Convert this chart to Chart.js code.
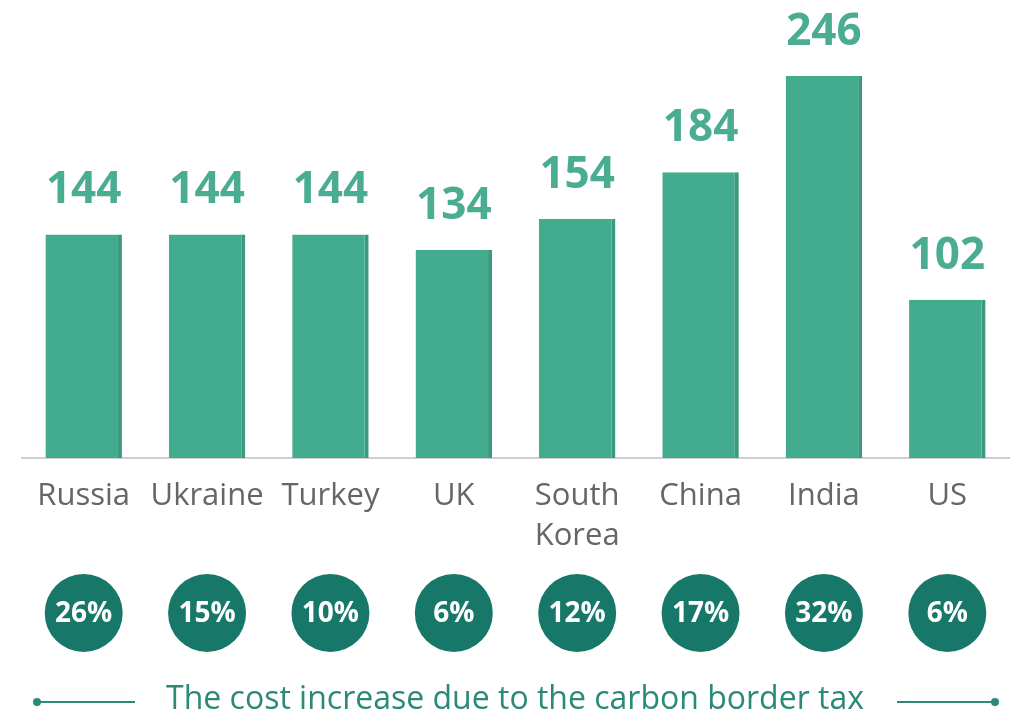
<!DOCTYPE html>
<html>
<head>
<meta charset="utf-8">
<script src="https://cdn.jsdelivr.net/npm/chart.js@4"></script>
<style>
  html, body { margin: 0; padding: 0; background: #fff; }
  #wrap { width: 1023px; height: 715px; }
</style>
</head>
<body>
<div id="wrap"><canvas id="cost-chart"></canvas></div>
<script>
// data
const countries = ['Russia', 'Ukraine', 'Turkey', 'UK', ['South', 'Korea'], 'China', 'India', 'US'];
const costValues = [144, 144, 144, 134, 154, 184, 246, 102];
const increasePct = ['26%', '15%', '10%', '6%', '12%', '17%', '32%', '6%'];
const footerText = 'The cost increase due to the carbon border tax';

const FONT = '"Open Sans", "DejaVu Sans", sans-serif';
const teal = '#17786a';

// value labels above bars, percentage circles and footer
const extras = {
    id: 'extras',
    afterDatasetsDraw(chart) {
        const ctx = chart.ctx;
        const xs = chart.scales.x;
        const meta = chart.getDatasetMeta(0);
        ctx.save();
        ctx.textAlign = 'center';

        // numbers above bars
        ctx.fillStyle = '#4aac90';
        ctx.font = 'bold 44px ' + FONT;
        ctx.textBaseline = 'alphabetic';
        meta.data.forEach(function (bar, i) {
            ctx.fillText(String(costValues[i]), bar.x, bar.y - 31);
        });

        // circles with percentages
        ctx.textBaseline = 'middle';
        increasePct.forEach(function (p, i) {
            const cx = xs.getPixelForValue(i);
            ctx.beginPath();
            ctx.fillStyle = teal;
            ctx.arc(cx, 613, 39, 0, Math.PI * 2);
            ctx.fill();
            ctx.fillStyle = '#ffffff';
            ctx.font = 'bold 28px ' + FONT;
            ctx.fillText(p, cx, 614);
        });

        // footer with lines
        ctx.fillStyle = '#2a8a77';
        ctx.font = '500 32px ' + FONT;
        ctx.textBaseline = 'alphabetic';
        ctx.fillText(footerText, 515, 709);
        ctx.strokeStyle = '#2a8a77';
        ctx.lineWidth = 2;
        ctx.beginPath();
        ctx.moveTo(37, 702); ctx.lineTo(135, 702);
        ctx.moveTo(897, 702); ctx.lineTo(995, 702);
        ctx.stroke();
        [37, 995].forEach(function (x) {
            ctx.beginPath();
            ctx.arc(x, 702, 4, 0, Math.PI * 2);
            ctx.fill();
        });
        ctx.restore();
    }
};

const data = {
    labels: countries,
    datasets: [{
        data: costValues,
        backgroundColor: '#43ab8e',
        borderColor: '#3a9a7f',
        borderWidth: { top: 0, left: 0, bottom: 0, right: 4 },
        borderSkipped: false,
        barPercentage: 0.62,
        categoryPercentage: 1.0
    }]
};

const config = {
    type: 'bar',
    data: data,
    plugins: [extras],
    options: {
        responsive: true,
        maintainAspectRatio: false,
        animation: false,
        layout: {
            padding: { left: 22, right: 14, top: 0, bottom: 141 }
        },
        scales: {
            x: {
                grid: { display: false, drawTicks: false },
                border: { display: true, color: '#cfcfcf', width: 2 },
                ticks: {
                    color: '#666666',
                    padding: 18,
                    font: { family: FONT, size: 31, lineHeight: 1.29 },
                    maxRotation: 0,
                    autoSkip: false
                }
            },
            y: {
                display: false,
                min: 0,
                max: 295
            }
        },
        plugins: {
            legend: { display: false },
            tooltip: { enabled: false },
            title: { display: false }
        }
    }
};

var context = document.getElementById('cost-chart').getContext('2d');
new Chart(context, config);
</script>
</body>
</html>
